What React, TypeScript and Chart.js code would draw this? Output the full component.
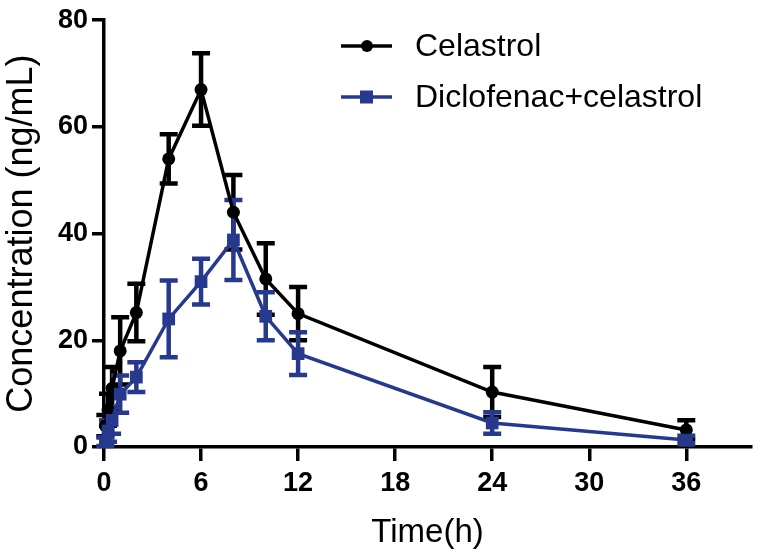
import React, { useEffect, useRef } from 'react';
import { Chart, registerables } from 'chart.js';

Chart.register(...registerables);

const times = [0.083, 0.25, 0.5, 1, 2, 4, 6, 8, 10, 12, 24, 36];
const celastrolMean = [4, 7, 11, 18, 25.2, 54, 67, 44, 31.5, 25, 10.3, 3.2];
const celastrolSD = [2, 3, 4, 6.3, 5.4, 4.6, 6.8, 7, 6.7, 5, 4.7, 1.8];
const comboMean = [1, 3, 5, 9.9, 13.1, 24, 31, 38.8, 24.5, 17.5, 4.5, 1.3];
const comboSD = [0.8, 2, 2.5, 3.5, 2.8, 7.2, 4.3, 7.5, 4.5, 4, 2, 0.8];
const xTicks = [0, 6, 12, 18, 24, 30, 36];
const yTicks = [0, 20, 40, 60, 80];
const seriesLabels = ['Celastrol', 'Diclofenac+celastrol'];

const BLACK = '#000000';
const BLUE = '#27398c';
const FONT = 'Arial, "Liberation Sans", sans-serif';

const errorBarPlugin = {
  id: 'errorBars',
  beforeDatasetsDraw(chart: any) {
    const { ctx, scales } = chart;
    const xs = scales.x;
    const ys = scales.y;
    const sets = [
      { mean: celastrolMean, sd: celastrolSD, color: BLACK },
      { mean: comboMean, sd: comboSD, color: BLUE },
    ];
    ctx.save();
    sets.forEach((s) => {
      ctx.strokeStyle = s.color;
      ctx.lineWidth = 4.5;
      ctx.lineCap = 'butt';
      times.forEach((t, i) => {
        const x = xs.getPixelForValue(t);
        const yTop = ys.getPixelForValue(s.mean[i] + s.sd[i]);
        const yBot = ys.getPixelForValue(Math.max(0, s.mean[i] - s.sd[i]));
        ctx.beginPath();
        ctx.moveTo(x, yTop);
        ctx.lineTo(x, yBot);
        ctx.moveTo(x - 9, yTop);
        ctx.lineTo(x + 9, yTop);
        ctx.moveTo(x - 9, yBot);
        ctx.lineTo(x + 9, yBot);
        ctx.stroke();
      });
    });
    ctx.restore();
  },
};

const legendPlugin = {
  id: 'customLegend',
  afterDraw(chart: any) {
    const { ctx } = chart;
    const items = [
      { label: seriesLabels[0], color: BLACK, y: 46, shape: 'circle' },
      { label: seriesLabels[1], color: BLUE, y: 97, shape: 'rect' },
    ];
    ctx.save();
    items.forEach((it) => {
      ctx.strokeStyle = it.color;
      ctx.fillStyle = it.color;
      ctx.lineWidth = 3.5;
      ctx.beginPath();
      ctx.moveTo(341, it.y);
      ctx.lineTo(392, it.y);
      ctx.stroke();
      if (it.shape === 'circle') {
        ctx.beginPath();
        ctx.arc(367, it.y, 6, 0, Math.PI * 2);
        ctx.fill();
      } else {
        ctx.fillRect(360, it.y - 6.5, 13, 13);
      }
      ctx.fillStyle = BLACK;
      ctx.font = `32px ${FONT}`;
      ctx.textBaseline = 'middle';
      ctx.textAlign = 'left';
      ctx.fillText(it.label, 415, it.y + 1);
    });
    ctx.restore();
  },
};

export default function App() {
  const ref = useRef<HTMLCanvasElement | null>(null);

  useEffect(() => {
    document.body.style.margin = '0';
    const canvas = ref.current;
    if (!canvas) return;
    const chart = new Chart(canvas, {
      type: 'line',
      data: {
        datasets: [
          {
            label: seriesLabels[1],
            data: times.map((t, i) => ({ x: t, y: comboMean[i] })),
            borderColor: BLUE,
            backgroundColor: BLUE,
            borderWidth: 3.5,
            pointStyle: 'rect',
            pointRadius: 9,
            pointBorderWidth: 0,
            tension: 0,
            clip: false,
            order: 0,
          },
          {
            label: seriesLabels[0],
            data: times.map((t, i) => ({ x: t, y: celastrolMean[i] })),
            borderColor: BLACK,
            backgroundColor: BLACK,
            borderWidth: 3.5,
            pointStyle: 'circle',
            pointRadius: 6.5,
            pointBorderWidth: 0,
            tension: 0,
            clip: false,
            order: 1,
          },
        ],
      },
      options: {
        animation: false,
        responsive: false,
        maintainAspectRatio: false,
        layout: { padding: { top: 18, right: 5, left: 0, bottom: 0 } },
        plugins: {
          legend: { display: false },
          tooltip: { enabled: false },
        },
        scales: {
          x: {
            type: 'linear',
            min: 0,
            max: 40,
            afterBuildTicks: (s: any) => {
              s.ticks = xTicks.map((v) => ({ value: v }));
            },
            afterFit: (s: any) => {
              s.height = 108;
            },
            grid: {
              display: true,
              drawOnChartArea: false,
              drawTicks: true,
              tickLength: 14,
              color: BLACK,
              lineWidth: 3.5,
            },
            border: { display: true, color: BLACK, width: 3.5 },
            ticks: {
              color: BLACK,
              font: { family: FONT, size: 27, weight: 'bold' },
              padding: 6,
              maxRotation: 0,
              autoSkip: false,
            },
            title: {
              display: true,
              text: 'Time(h)',
              color: BLACK,
              font: { family: FONT, size: 33 },
              padding: { top: 0, bottom: 2 },
            },
          },
          y: {
            type: 'linear',
            min: 0,
            max: 80,
            afterBuildTicks: (s: any) => {
              s.ticks = yTicks.map((v) => ({ value: v }));
            },
            afterFit: (s: any) => {
              s.width = 104;
            },
            grid: {
              display: true,
              drawOnChartArea: false,
              drawTicks: true,
              tickLength: 12,
              color: BLACK,
              lineWidth: 3.5,
            },
            border: { display: true, color: BLACK, width: 3.5 },
            ticks: {
              color: BLACK,
              font: { family: FONT, size: 27, weight: 'bold' },
              padding: 4,
              autoSkip: false,
            },
            title: {
              display: true,
              text: 'Concentration (ng/mL)',
              color: BLACK,
              font: { family: FONT, size: 36 },
              padding: { top: 0, bottom: 0 },
            },
          },
        },
      },
      plugins: [errorBarPlugin, legendPlugin],
    } as any);
    return () => chart.destroy();
  }, []);

  return <canvas ref={ref} width={760} height={555} style={{ display: 'block' }} />;
}
